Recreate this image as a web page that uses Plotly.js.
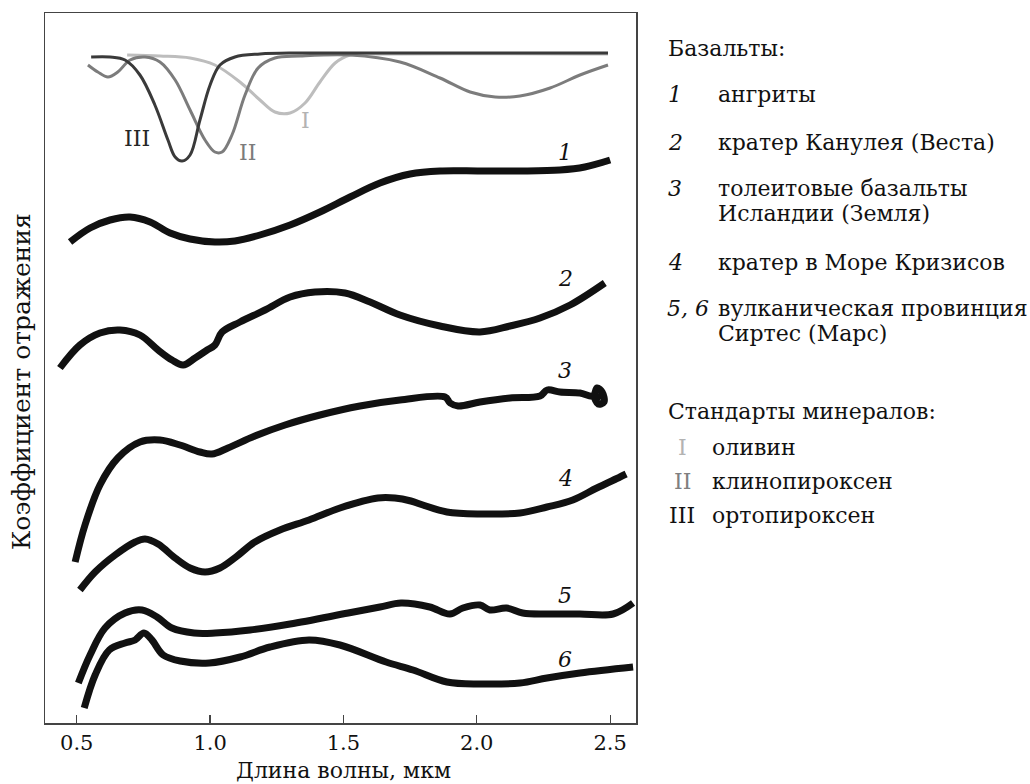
<!DOCTYPE html>
<html>
<head>
<meta charset="utf-8">
<script src="https://cdn.plot.ly/plotly-3.0.1.min.js"></script>
<style>html,body{margin:0;padding:0;background:#fff;}#chart{width:1030px;height:784px;}</style>
</head>
<body>
<div id="chart"></div>
<script>
// Mineral standards (wavelength, µm ; relative reflectance, arbitrary offset units)
const mIII_x = [0.554,0.625,0.681,0.737,0.793,0.842,0.869,0.895,0.925,0.962,1.0,1.037,1.093,1.187,1.337,2.492];
const mIII_y = [666,666,663,648,618,583,566,562,568,603,638,658,666,669,670,670];
const mII_x = [0.542,0.579,0.617,0.654,0.70,0.756,0.812,0.869,0.925,0.981,1.018,1.045,1.082,1.131,1.18,1.243,1.337,1.525,1.712,1.862,1.975,2.069,2.162,2.275,2.387,2.492];
const mII_y = [658,651,646,651,663,666,661,643,613,583,571,571,588,628,655,665,667,668,661,645,631,626,627,635,648,658];
const mI_x = [0.689,0.812,0.925,1.018,1.112,1.187,1.243,1.30,1.356,1.412,1.469,1.525,1.637,2.492];
const mI_y = [668,667,665,658,641,623,611,610,620,641,660,668,669,669];

// Basalt spectra
const b1_x = [0.475,0.55,0.625,0.70,0.775,0.85,0.925,1.018,1.093,1.187,1.30,1.412,1.525,1.637,1.75,1.862,2.012,2.162,2.312,2.405,2.50];
const b1_y = [481,495,503,506,501,490,484,481,482,488,498,511,526,540,549,552,552,552,553,556,563];
const b2_x = [0.437,0.512,0.587,0.662,0.737,0.805,0.857,0.899,0.944,0.989,1.018,1.045,1.112,1.206,1.30,1.393,1.506,1.60,1.712,1.862,2.012,2.125,2.237,2.35,2.48];
const b2_y = [355,378,390,393,388,373,363,358,365,373,378,391,401,413,426,431,430,421,408,397,391,397,405,418,440];
const b3_x = [0.494,0.531,0.587,0.654,0.737,0.812,0.887,0.962,1.007,1.067,1.168,1.281,1.412,1.562,1.712,1.881,1.90,1.93,2.012,2.125,2.237,2.264,2.312,2.387,2.436,2.451,2.47,2.477,2.455,2.443,2.466];
const b3_y = [161,198,238,265,281,283,278,271,269,275,287,298,308,317,323,326,320,317,321,325,327,333,331,330,327,335,331,321,319,326,326];
const b4_x = [0.512,0.569,0.644,0.719,0.756,0.805,0.869,0.925,0.981,1.037,1.097,1.168,1.262,1.371,1.487,1.629,1.693,1.753,1.798,1.888,2.012,2.162,2.263,2.36,2.45,2.537,2.56];
const b4_y = [133,151,168,181,184,179,165,155,151,155,166,181,193,203,215,225,225,222,218,211,209,210,216,223,235,246,249];
const b5_x = [0.506,0.55,0.606,0.681,0.745,0.801,0.857,0.94,1.019,1.15,1.30,1.518,1.637,1.716,1.824,1.899,1.948,2.012,2.049,2.112,2.172,2.263,2.387,2.511,2.586];
const b5_y = [40,68,95,110,113,106,95,90,90,93,99,110,116,120,116,109,115,118,113,115,110,109,109,109,120];
const b6_x = [0.528,0.569,0.622,0.681,0.719,0.752,0.782,0.824,0.888,0.997,1.113,1.225,1.371,1.487,1.66,1.761,1.888,2.012,2.162,2.263,2.387,2.586];
const b6_y = [15,48,73,80,83,90,83,68,62,60,66,76,83,78,61,53,41,39,40,45,50,56];

const xTicks = [0.5,1.0,1.5,2.0,2.5];
const xTickLabels = ['0.5','1.0','1.5','2.0','2.5'];

const curveLabels = ['1','2','3','4','5','6'];
const curveLabelX = [2.331,2.331,2.331,2.331,2.331,2.331];
const curveLabelY = [571,445,353,245,128,64];
const mineralLabels = ['III','II','I'];
const mineralLabelX = [0.726,1.142,1.356];
const mineralLabelY = [585,571,603];
const mineralColors = ['#262626','#7c7c7c','#b3b3b3'];

const basaltNames = ['ангриты','кратер Канулея (Веста)','толеитовые базальты','Исландии (Земля)','кратер в Море Кризисов','вулканическая провинция','Сиртес (Марс)'];
const basaltNums = ['1','2','3','','4','5, 6',''];
const mineralNums = ['I','II','III'];
const mineralNames = ['оливин','клинопироксен','ортопироксен'];

const FONT = '"DejaVu Serif", "Liberation Serif", serif';

function line(x, y, color, width) {
  return {x: x, y: y, type: 'scatter', mode: 'lines',
    line: {color: color, width: width, shape: 'spline', smoothing: 1},
    hoverinfo: 'skip', showlegend: false};
}

const traces = [
  line(mI_x, mI_y, '#bdbdbd', 3),
  line(mII_x, mII_y, '#7c7c7c', 3),
  line(mIII_x, mIII_y, '#3a3a3a', 3),
  line(b1_x, b1_y, '#111', 7),
  line(b2_x, b2_y, '#111', 7),
  line(b3_x, b3_y, '#111', 7),
  line(b4_x, b4_y, '#111', 7),
  line(b5_x, b5_y, '#111', 7),
  line(b6_x, b6_y, '#111', 7)
];

// plot area in pixels
const L = 45, R = 636, T = 13, B = 723;
const px = p => (p - L) / (R - L);
const py = p => (B - p) / (B - T);

const TXT = {family: FONT, size: 22, color: '#111'};
const ann = [];
curveLabels.forEach((t, i) => ann.push({x: curveLabelX[i], y: curveLabelY[i], xref: 'x', yref: 'y', text: '<i>' + t + '</i>', showarrow: false, font: TXT}));
mineralLabels.forEach((t, i) => ann.push({x: mineralLabelX[i], y: mineralLabelY[i], xref: 'x', yref: 'y', text: t, showarrow: false, font: {family: FONT, size: 22, color: mineralColors[i]}}));

ann.push({x: px(666), y: py(48), xref: 'paper', yref: 'paper', xanchor: 'left', yanchor: 'middle', text: 'Базальты:', showarrow: false, font: TXT});
const rowY = [95, 142, 188, 214, 262, 308, 334];
basaltNames.forEach((t, i) => {
  ann.push({x: px(716), y: py(rowY[i]), xref: 'paper', yref: 'paper', xanchor: 'left', yanchor: 'middle', text: t, showarrow: false, font: TXT});
  if (basaltNums[i]) {
    const n = basaltNums[i];
    if (n.length > 1) {
      ann.push({x: px(665), y: py(rowY[i]), xref: 'paper', yref: 'paper', xanchor: 'left', yanchor: 'middle', text: '<i>' + n + '</i>', showarrow: false, font: TXT});
    } else {
      ann.push({x: px(675), y: py(rowY[i]), xref: 'paper', yref: 'paper', xanchor: 'center', yanchor: 'middle', text: '<i>' + n + '</i>', showarrow: false, font: TXT});
    }
  }
});
ann.push({x: px(666), y: py(412), xref: 'paper', yref: 'paper', xanchor: 'left', yanchor: 'middle', text: 'Стандарты минералов:', showarrow: false, font: TXT});
const mRowY = [447, 481, 515];
const legendColors = ['#b3b3b3','#808080','#111'];
mineralNames.forEach((t, i) => {
  ann.push({x: px(710), y: py(mRowY[i]), xref: 'paper', yref: 'paper', xanchor: 'left', yanchor: 'middle', text: t, showarrow: false, font: TXT});
  ann.push({x: px(682), y: py(mRowY[i]), xref: 'paper', yref: 'paper', xanchor: 'center', yanchor: 'middle', text: mineralNums[i], showarrow: false, font: {family: FONT, size: 22, color: legendColors[i]}});
});
// y-axis title
ann.push({x: px(21), y: py(382), xref: 'paper', yref: 'paper', xanchor: 'center', yanchor: 'middle', textangle: -90, text: 'Коэффициент отражения', showarrow: false, font: {family: FONT, size: 25, color: '#111'}});
// x-axis title
ann.push({x: px(343), y: py(771), xref: 'paper', yref: 'paper', xanchor: 'center', yanchor: 'middle', text: 'Длина волны, мкм', showarrow: false, font: TXT});

const layout = {
  width: 1030, height: 784,
  margin: {l: L, r: 1030 - R, t: T, b: 784 - B},
  paper_bgcolor: '#fff', plot_bgcolor: '#fff',
  showlegend: false,
  font: {family: FONT, size: 20, color: '#111'},
  xaxis: {
    range: [0.381, 2.597], showgrid: false, zeroline: false,
    showline: true, mirror: true, linecolor: '#444', linewidth: 1.5,
    ticks: 'inside', ticklen: 8, tickcolor: '#444', tickwidth: 1.2,
    tickvals: xTicks, ticktext: xTickLabels,
    tickfont: {family: FONT, size: 21, color: '#111'}
  },
  yaxis: {
    range: [0, 710], showgrid: false, zeroline: false,
    showline: true, mirror: true, linecolor: '#444', linewidth: 1.5,
    ticks: '', showticklabels: false
  },
  annotations: ann
};

Plotly.newPlot('chart', traces, layout, {displayModeBar: false, staticPlot: true});
</script>
</body>
</html>
